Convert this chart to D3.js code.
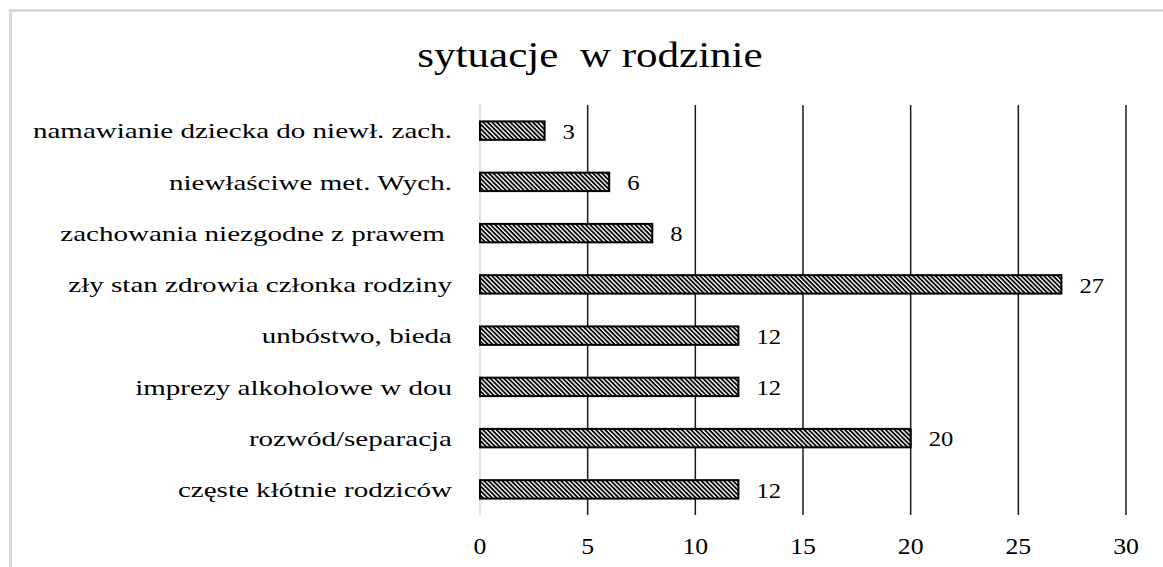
<!DOCTYPE html>
<html>
<head>
<meta charset="utf-8">
<script src="https://cdn.jsdelivr.net/npm/d3@7"></script>
<style>
  body { margin: 0; background: #fff; }
  text { font-family: "Liberation Serif", "Times New Roman", serif; fill: #000; }
</style>
</head>
<body>
<div></div>
<script>
var categories = [
  "namawianie dziecka do niewł. zach.",
  "niewłaściwe met. Wych.",
  "zachowania niezgodne z prawem ",
  "zły stan zdrowia członka rodziny",
  "unbóstwo, bieda",
  "imprezy alkoholowe w dou",
  "rozwód/separacja",
  "częste kłótnie rodziców"
];
var values = [3, 6, 8, 27, 12, 12, 20, 12];
var ticks = [0, 5, 10, 15, 20, 25, 30];
var title = "sytuacje  w rodzinie";

var width = 1163,
    height = 567;

var svg = d3.select("div")
    .append("svg")
    .attr("width", width)
    .attr("height", height);

// hatch fill (dark downward diagonal)
var defs = svg.append("defs");
var pat = defs.append("pattern")
    .attr("id", "hatch")
    .attr("patternUnits", "userSpaceOnUse")
    .attr("width", 3.2)
    .attr("height", 3.2)
    .attr("patternTransform", "rotate(45)");
pat.append("rect").attr("width", 3.2).attr("height", 3.2).attr("fill", "#fff");
pat.append("rect").attr("width", 3.2).attr("height", 1.8).attr("fill", "#000");

// outer frame
svg.append("path")
    .attr("d", "M10.5," + height + "V10.5H" + width)
    .attr("fill", "none")
    .attr("stroke", "#d9d9d9")
    .attr("stroke-width", 3);

svg.append("g")
    .attr("transform", "translate(590,67) scale(1.23,1)")
    .append("text")
    .attr("text-anchor", "middle")
    .style("font-size", "35px")
    .style("white-space", "pre")
    .text(title);

var x = d3.scaleLinear()
    .domain([0, 30])
    .range([480, 1126]);

var y = d3.scaleBand()
    .domain(categories)
    .range([105, 515])
    .paddingInner(0.64)
    .paddingOuter(0.32);

// grid
svg.append("g")
    .selectAll("line")
    .data(ticks)
    .enter()
    .append("line")
    .attr("x1", function (d) { return x(d); })
    .attr("x2", function (d) { return x(d); })
    .attr("y1", 105)
    .attr("y2", 515)
    .attr("stroke", function (d) { return d === 0 ? "#d9d9d9" : "#1a1a1a"; })
    .attr("stroke-width", 1.5);

// x tick labels
svg.append("g")
    .selectAll("g")
    .data(ticks)
    .enter()
    .append("g")
    .attr("transform", function (d) { return "translate(" + x(d) + ",554) scale(1.12,1)"; })
    .append("text")
    .attr("text-anchor", "middle")
    .style("font-size", "23px")
    .text(function (d) { return d; });

// category labels
svg.append("g")
    .selectAll("g")
    .data(categories)
    .enter()
    .append("g")
    .attr("transform", function (d) {
        return "translate(452," + (y(d) + y.bandwidth() / 2) + ") scale(1.32,1)";
    })
    .append("text")
    .attr("dy", "0.35em")
    .attr("text-anchor", "end")
    .style("font-size", "22px")
    .style("white-space", "pre")
    .text(function (d) { return d; });

// bars
svg.append("g")
    .selectAll("rect")
    .data(values)
    .enter()
    .append("rect")
    .attr("x", x(0))
    .attr("y", function (d, i) { return y(categories[i]); })
    .attr("width", function (d) { return x(d) - x(0); })
    .attr("height", y.bandwidth())
    .attr("fill", "url(#hatch)")
    .attr("stroke", "#000")
    .attr("stroke-width", 2);

// value labels
svg.append("g")
    .selectAll("g")
    .data(values)
    .enter()
    .append("g")
    .attr("transform", function (d, i) {
        return "translate(" + (x(d) + 18) + "," + (y(categories[i]) + y.bandwidth() / 2) + ") scale(1.12,1)";
    })
    .append("text")
    .attr("dy", "0.38em")
    .style("font-size", "22px")
    .text(function (d) { return d; });
</script>
</body>
</html>
